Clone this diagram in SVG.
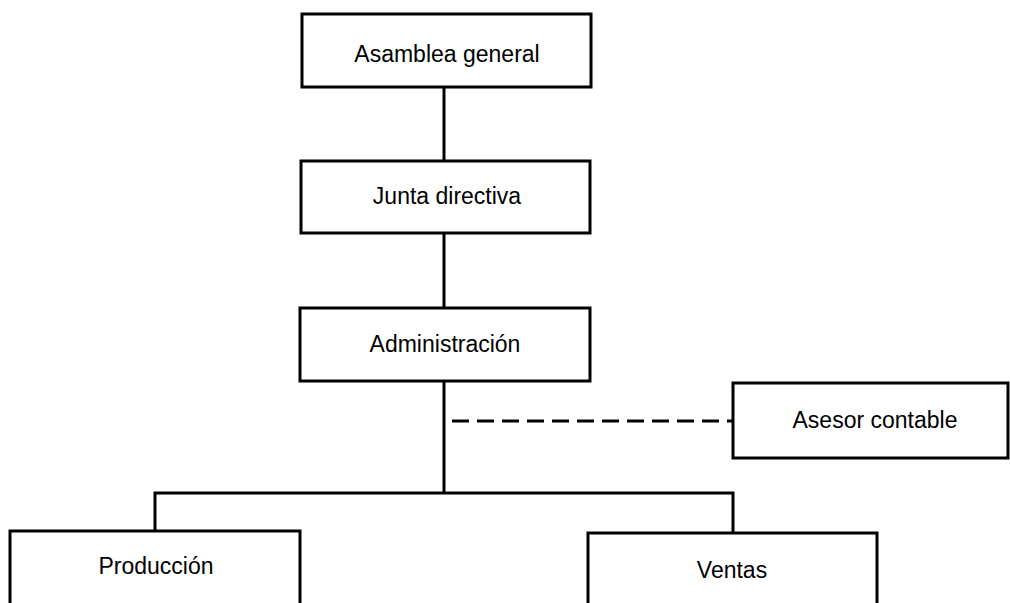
<svg xmlns="http://www.w3.org/2000/svg" width="1010" height="603" viewBox="0 0 1010 603">
<style>
.box{fill:#fff;stroke:#000;stroke-width:3}
.lbl{font-family:"Liberation Sans",Arial,sans-serif;font-size:23px;fill:#000;text-anchor:middle}
.ln{stroke:#000;stroke-width:3;fill:none}
.dash{stroke:#000;stroke-width:3;fill:none;stroke-dasharray:17 8}
</style>
<rect width="1010" height="603" fill="#fff"/>
<g id="connectors">
<line class="ln" x1="444" y1="87" x2="444" y2="161"/>
<line class="ln" x1="444" y1="233" x2="444" y2="308"/>
<line class="ln" x1="444" y1="381" x2="444" y2="493"/>
<polyline class="ln" points="155,531 155,493 733,493 733,533"/>
<line class="dash" x1="452" y1="421" x2="732" y2="421"/>
</g>
<g id="asamblea"><rect class="box" x="302" y="14" width="289" height="73"/><text class="lbl" x="447" y="62">Asamblea general</text></g>
<g id="junta"><rect class="box" x="301" y="161" width="289" height="72"/><text class="lbl" x="447" y="204">Junta directiva</text></g>
<g id="administracion"><rect class="box" x="300" y="308" width="290" height="73"/><text class="lbl" x="445" y="352">Administración</text></g>
<g id="asesor"><rect class="box" x="733" y="383" width="275" height="75"/><text class="lbl" x="875" y="428">Asesor contable</text></g>
<g id="produccion"><rect class="box" x="10" y="531" width="290" height="80"/><text class="lbl" x="156" y="574">Producción</text></g>
<g id="ventas"><rect class="box" x="588" y="533" width="289" height="80"/><text class="lbl" x="732" y="578">Ventas</text></g>
</svg>
